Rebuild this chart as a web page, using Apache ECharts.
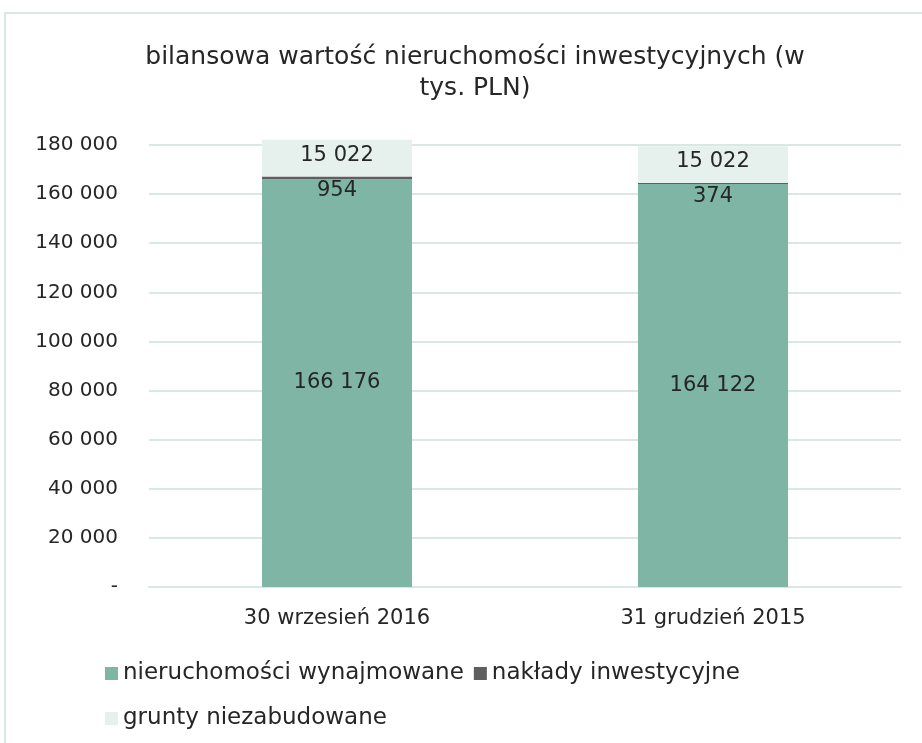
<!DOCTYPE html>
<html>
<head>
<meta charset="utf-8">
<script src="https://cdn.jsdelivr.net/npm/echarts@6/dist/echarts.min.js"></script>
<style>
  html, body { margin: 0; padding: 0; background: #fff; }
  #chart { width: 922px; height: 743px; }
</style>
</head>
<body>
<div id="chart"></div>
<script>
const categories = ['30 wrzesień 2016', '31 grudzień 2015']
const wynajmowane = [166176, 164122]
const naklady = [954, 374]
const grunty = [15022, 15022]
const seriesNames = ['nieruchomości wynajmowane', 'nakłady inwestycyjne', 'grunty niezabudowane']

const font = '"DejaVu Sans", sans-serif'
const textColor = '#262626'
const fmt = v => v === 0 ? '-' : String(v).replace(/\B(?=(\d{3})+(?!\d))/g, ' ')

const chart = echarts.init(document.getElementById('chart'))

const labelBase = {
  show: true,
  fontFamily: font,
  fontSize: 21,
  color: textColor,
  formatter: p => fmt(p.value)
}

const legendBase = {
  left: 100,
  itemWidth: 13,
  itemHeight: 13,
  itemGap: 10,
  icon: 'rect',
  textStyle: { fontFamily: font, fontSize: 23, color: textColor }
}

chart.setOption({
  animation: false,
  title: {
    text: 'bilansowa wartość nieruchomości inwestycyjnych (w\ntys. PLN)',
    left: 470,
    textAlign: 'center',
    top: 37,
    textStyle: { fontFamily: font, fontSize: 25, fontWeight: 'normal', color: textColor, lineHeight: 31 }
  },
  graphic: [{
    type: 'rect',
    shape: { x: 5, y: 13, width: 960, height: 780 },
    style: { fill: null, stroke: '#d9e8e3', lineWidth: 2 },
    silent: true
  }],
  legend: [
    Object.assign({}, legendBase, { top: 657, data: seriesNames.slice(0, 2) }),
    Object.assign({}, legendBase, { top: 702, data: seriesNames.slice(2) })
  ],
  grid: { left: 149, right: 21, top: 145, bottom: 156 },
  xAxis: {
    type: 'category',
    data: categories,
    axisTick: { show: false },
    axisLine: { lineStyle: { color: '#d9e8e3', width: 2 } },
    axisLabel: { fontFamily: font, fontSize: 21, color: textColor, margin: 21 }
  },
  yAxis: {
    type: 'value',
    min: 0,
    max: 180000,
    interval: 20000,
    axisLine: { show: false },
    axisTick: { show: false },
    splitLine: { lineStyle: { color: '#d9e8e3', width: 2 } },
    axisLabel: { fontFamily: font, fontSize: 20, color: textColor, margin: 31, formatter: fmt }
  },
  series: [
    {
      name: seriesNames[0], type: 'bar', stack: 'a', data: wynajmowane,
      barWidth: 150, clip: false,
      itemStyle: { color: '#7fb5a4' },
      label: Object.assign({}, labelBase, { position: 'inside' })
    },
    {
      name: seriesNames[1], type: 'bar', stack: 'a', data: naklady,
      clip: false,
      itemStyle: { color: '#5f5f5f' },
      label: Object.assign({}, labelBase, { position: 'inside', offset: [0, 13] })
    },
    {
      name: seriesNames[2], type: 'bar', stack: 'a', data: grunty,
      clip: false,
      itemStyle: { color: '#e6f0ed' },
      label: Object.assign({}, labelBase, { position: 'inside', offset: [0, -3] })
    }
  ]
})
</script>
</body>
</html>
